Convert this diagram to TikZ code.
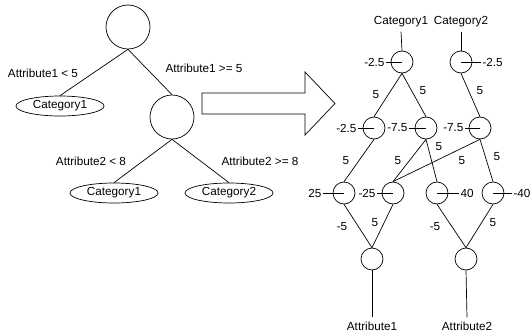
\documentclass[tikz,border=0pt]{standalone}
\usepackage{fontspec}
\setmainfont{Liberation Sans}
\usetikzlibrary{shapes.geometric}
\begin{document}
\begin{tikzpicture}
			[x=0.03cm,y=-0.03cm,line width=0.6pt,font=\fontsize{10}{12}\selectfont,
			split/.style={circle,draw,minimum size=1.32cm,inner sep=0pt},
			leaf/.style={ellipse,draw,minimum width=2.64cm,minimum height=0.6cm,inner sep=0pt},
			neuron/.style={circle,draw,minimum size=0.66cm,inner sep=0pt},
			bias/.style={inner sep=1pt},
			weight/.style={inner sep=0pt}]
			\useasboundingbox (0,0) rectangle (531,336);
			\node[split] (R) at (128,27) {};
			\node[split] (S) at (172,117) {};
			\node[leaf] (L1) at (60,106) {Category1};
			\node[leaf] (L2) at (114,193) {Category1};
			\node[leaf] (L3) at (229,193) {Category2};
			\node (c1) at (43,73) {Attribute1 < 5};
			\node (c2) at (204,68) {Attribute1 >= 5};
			\node (c3) at (91,161) {Attribute2 < 8};
			\node (c4) at (260,161) {Attribute2 >= 8};
			\path[draw]
			(R.south) edge (L1.north)
			(R.south) edge (S.north)
			(S.south) edge (L2.north)
			(S.south) edge (L3.north);
			\draw (202,93) -- (305,93) -- (305,72) -- (335,103.5) -- (305,135) -- (305,114) -- (202,114) -- cycle;
			\node[neuron] (T1) at (402,62) {};
			\node[neuron] (T2) at (461,62) {};
			\node[neuron] (H1) at (374,128) {};
			\node[neuron] (H2) at (426,128) {};
			\node[neuron] (H3) at (480,128) {};
			\node[neuron] (D1) at (344,193) {};
			\node[neuron] (D2) at (393,193) {};
			\node[neuron] (D3) at (437,193) {};
			\node[neuron] (D4) at (493,193) {};
			\node[neuron] (I1) at (372,259) {};
			\node[neuron] (I2) at (466,259) {};
			\node (O1) at (401,22) {Category1};
			\node (O2) at (461,22) {Category2};
			\node (A1) at (372,326) {Attribute1};
			\node (A2) at (467,326) {Attribute2};
			\node[bias,anchor=east] (bT1) at (386,62) {-2.5};
			\node[bias,anchor=west] (bT2) at (481,62) {-2.5};
			\node[bias,anchor=east] (bH1) at (358,128) {-2.5};
			\node[bias,anchor=east] (bH2) at (409,128) {-7.5};
			\node[bias,anchor=east] (bH3) at (465,128) {-7.5};
			\node[bias,anchor=east] (bD1) at (323,193) {25};
			\node[bias,anchor=east] (bD2) at (377,193) {-25};
			\node[bias,anchor=west] (bD3) at (459,193) {40};
			\node[bias,anchor=west] (bD4) at (512,193) {-40};
			\node[weight] (w1) at (376,95) {5};
			\node[weight] (w2) at (423,91) {5};
			\node[weight] (w3) at (480,91) {5};
			\node[weight] (w4) at (346,161) {5};
			\node[weight] (w5) at (398,161) {5};
			\node[weight] (w6) at (439,147) {5};
			\node[weight] (w7) at (462,161) {5};
			\node[weight] (w8) at (497,157) {5};
			\node[weight] (w9) at (342,227) {-5};
			\node[weight] (w10) at (375,223) {5};
			\node[weight] (w11) at (435,227) {-5};
			\node[weight] (w12) at (493,223) {5};
			\path[draw]
			(O1.south) edge (T1.north)
			(O2.south) edge (T2.north)
			(T1.south) edge (H1.north)
			(T1.south) edge (H2.north)
			(T2.south) edge (H3.north)
			(H1.south) edge (D1.north)
			(H2.south) edge (D2.north)
			(H2.south) edge (D3.north)
			(H3.south) edge (D2.north)
			(H3.south) edge (D4.north)
			(D1.south) edge (I1.north)
			(D2.south) edge (I1.north)
			(D3.south) edge (I2.north)
			(D4.south) edge (I2.north)
			(I1.south) edge (A1.north)
			(I2.south) edge (A2.north);
			\path[draw]
			(T1.center) edge (bT1)
			(T2.center) edge (bT2)
			(H1.center) edge (bH1)
			(H2.center) edge (bH2)
			(H3.center) edge (bH3)
			(D1.center) edge (bD1)
			(D2.center) edge (bD2)
			(D3.center) edge (bD3)
			(D4.center) edge (bD4);
		\end{tikzpicture}
\end{document}
